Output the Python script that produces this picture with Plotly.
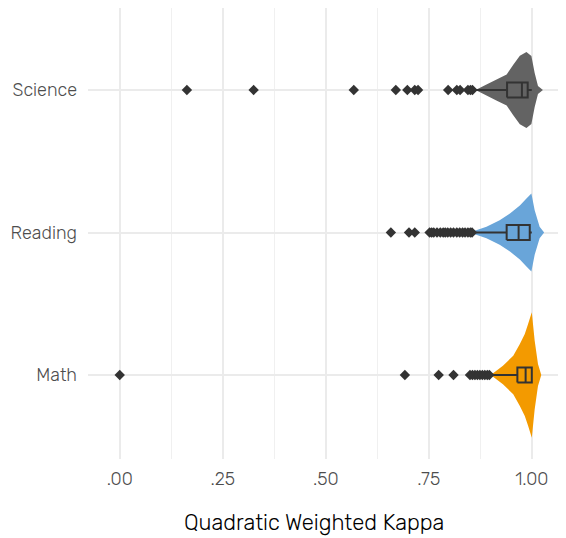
import plotly.graph_objects as go

# ---- data ----
subjects = ["Math", "Reading", "Science"]
positions = [1, 2, 3]
colors = ["#f39a00", "#69a5d9", "#636363"]

# violin outline: x values and half-widths (in category units)
math_vx = [0.85, 0.906, 0.930, 0.955, 0.971, 0.983, 0.991, 1.0, 1.007, 1.015, 1.023]
math_vw = [0.001, 0.012, 0.065, 0.135, 0.217, 0.287, 0.357, 0.44, 0.24, 0.077, 0.0]
reading_vx = [0.75, 0.858, 0.890, 0.922, 0.947, 0.971, 0.987, 0.999, 1.007, 1.019, 1.030]
reading_vw = [0.001, 0.008, 0.04, 0.086, 0.133, 0.19, 0.238, 0.273, 0.156, 0.04, 0.0]
science_vx = [0.80, 0.866, 0.890, 0.914, 0.939, 0.955, 0.971, 0.987, 0.999, 1.007, 1.015, 1.027]
science_vw = [0.001, 0.004, 0.038, 0.073, 0.108, 0.178, 0.241, 0.266, 0.238, 0.12, 0.028, 0.0]

# box statistics
q1 = [0.965, 0.939, 0.940]
median = [0.985, 0.968, 0.976]
q3 = [1.0, 0.995, 0.990]
lowerfence = [0.906, 0.858, 0.862]
upperfence = [1.0, 1.0, 1.0]

# outliers
math_out = [0.0, 0.692, 0.774, 0.810, 0.850, 0.856, 0.862, 0.868, 0.874, 0.880, 0.886, 0.892, 0.897]
reading_out = [0.658, 0.702, 0.716, 0.752, 0.757, 0.762, 0.770, 0.778, 0.785, 0.790, 0.796,
               0.803, 0.810, 0.818, 0.825, 0.832, 0.838, 0.845, 0.851, 0.855]
science_out = [0.163, 0.325, 0.568, 0.670, 0.698, 0.716, 0.724, 0.797, 0.818, 0.826, 0.845, 0.851, 0.856]

x_ticks = [0.0, 0.25, 0.5, 0.75, 1.0]
x_ticktext = [".00", ".25", ".50", ".75", "1.00"]
x_title = "Quadratic Weighted Kappa"

violins = [(math_vx, math_vw), (reading_vx, reading_vw), (science_vx, science_vw)]
outliers = [math_out, reading_out, science_out]
BOX_HALF = 0.052

fig = go.Figure()
for i, (vx, vw) in enumerate(violins):
    pos = positions[i]
    xs = list(vx) + list(reversed(vx))
    ys = [pos + w for w in vw] + [pos - w for w in reversed(vw)]
    fig.add_trace(go.Scatter(x=xs, y=ys, mode="lines", fill="toself",
                             fillcolor=colors[i], line=dict(width=0, color=colors[i]),
                             hoverinfo="skip", showlegend=False))

for i in range(3):
    p = positions[i]
    top, bot = p + BOX_HALF, p - BOX_HALF
    bx = [q1[i], q3[i], q3[i], q1[i], q1[i], None,
          median[i], median[i], None,
          lowerfence[i], q1[i], None,
          q3[i], upperfence[i]]
    by = [bot, bot, top, top, bot, None,
          bot, top, None,
          p, p, None,
          p, p]
    fig.add_trace(go.Scatter(x=bx, y=by, mode="lines",
                             line=dict(color="#333333", width=2),
                             hoverinfo="skip", showlegend=False))

for i in range(3):
    fig.add_trace(go.Scatter(x=outliers[i], y=[positions[i]] * len(outliers[i]), mode="markers",
                             marker=dict(symbol="diamond", size=8, color="#333333"),
                             showlegend=False))

font_family = "Rubik, Roboto, sans-serif"
fig.update_layout(
    width=558, height=530,
    margin=dict(l=80, r=0, t=0, b=79, autoexpand=False),
    plot_bgcolor="white", paper_bgcolor="white",
    font=dict(family=font_family, weight=300),
    xaxis=dict(range=[-0.077, 1.083], tickvals=x_ticks, ticktext=x_ticktext,
               showgrid=True, gridcolor="#ebebeb", gridwidth=2, zeroline=False,
               showline=False, ticks="", ticklabelstandoff=7,
               minor=dict(showgrid=True, gridcolor="#f0f0f0", gridwidth=1,
                          tickvals=[0.125, 0.375, 0.625, 0.875]),
               tickfont=dict(size=18, color="#4d4d4d", family=font_family, weight=300)),
    yaxis=dict(range=[0.4105, 3.5754], tickvals=positions, ticktext=subjects,
               showgrid=True, gridcolor="#ebebeb", gridwidth=2, zeroline=False,
               showline=False, ticks="", ticklabelstandoff=10,
               tickfont=dict(size=18, color="#4d4d4d", family=font_family, weight=300)),
    annotations=[dict(text=x_title, xref="paper", yref="paper", x=0.4728, y=-0.1419,
                      xanchor="center", yanchor="middle", showarrow=False,
                      font=dict(size=22, color="#000000", family=font_family, weight=300))],
)

fig.write_html("out.html")
